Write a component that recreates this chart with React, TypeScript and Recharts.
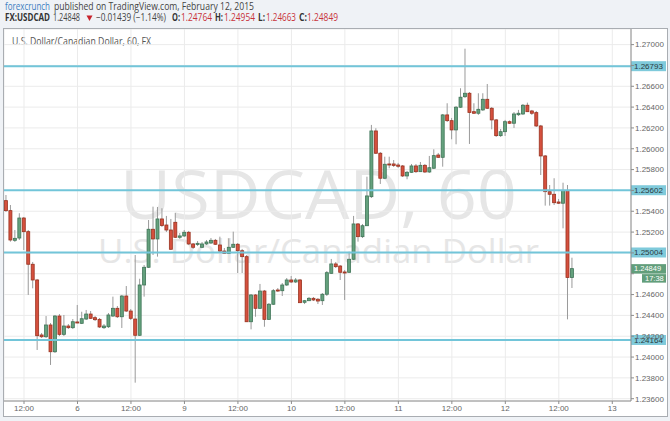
import React from 'react';
import { ComposedChart, Bar, XAxis, YAxis, CartesianGrid, ReferenceLine } from 'recharts';

// hourly USDCAD candles, Feb 5 08:00 -> Feb 12 15:00
const opens = [
  1.25502, 1.25406, 1.25121, 1.25143, 1.25335, 1.25204, 1.24891, 1.2474, 1.24212, 1.24195,
  1.24308, 1.24051, 1.24394, 1.24218, 1.24298, 1.24282, 1.24337, 1.24324, 1.24365, 1.24413,
  1.24378, 1.24362, 1.24282, 1.24291, 1.24394, 1.24468, 1.24387, 1.24586, 1.24442, 1.24365,
  1.24209, 1.24692, 1.24862, 1.25227, 1.25134, 1.25326, 1.25268, 1.2522, 1.25294, 1.2515,
  1.25163, 1.25198, 1.25086, 1.25081, 1.25054, 1.25086, 1.25095, 1.25121, 1.25076, 1.25018,
  1.24996, 1.25054, 1.25083, 1.25021, 1.24964, 1.24339, 1.24596, 1.24468, 1.24634, 1.24362,
  1.24507, 1.24644, 1.24637, 1.24692, 1.2474, 1.24721, 1.2474, 1.24526, 1.24541, 1.24564,
  1.24555, 1.24541, 1.24603, 1.24804, 1.24894, 1.24874, 1.24817, 1.24814, 1.24939, 1.25278,
  1.25156, 1.25261, 1.2554, 1.26171, 1.25957, 1.25717, 1.25854, 1.25854, 1.25844, 1.25835,
  1.25739, 1.25774, 1.25835, 1.2578, 1.25841, 1.25777, 1.25813, 1.2594, 1.25918, 1.26325,
  1.2627, 1.26181, 1.26399, 1.265, 1.26533, 1.26356, 1.26341, 1.26373, 1.26475, 1.26389,
  1.26277, 1.26126, 1.26164, 1.2626, 1.26245, 1.26327, 1.26334, 1.26418, 1.26363, 1.26347,
  1.26219, 1.25931, 1.25588, 1.25563, 1.25489, 1.25477, 1.25599, 1.24764,
];
const highs = [
  1.25556, 1.2546, 1.2522, 1.25381, 1.25345, 1.2522, 1.24913, 1.2475, 1.24231, 1.24394,
  1.24327, 1.24404, 1.24413, 1.24404, 1.24317, 1.24365, 1.245, 1.24435, 1.24452, 1.24442,
  1.24394, 1.24375, 1.24317, 1.24423, 1.2458, 1.2449, 1.24596, 1.24682, 1.24461, 1.2498,
  1.24752, 1.24884, 1.25316, 1.25444, 1.25441, 1.25429, 1.25355, 1.25326, 1.25383, 1.25191,
  1.2522, 1.25211, 1.25095, 1.25114, 1.25105, 1.25124, 1.25143, 1.25134, 1.25156, 1.25047,
  1.2514, 1.25204, 1.25095, 1.25038, 1.2498, 1.24605, 1.24605, 1.24702, 1.24644, 1.24519,
  1.24653, 1.24663, 1.24711, 1.24759, 1.24778, 1.24759, 1.2475, 1.24548, 1.24577, 1.24577,
  1.24567, 1.24615, 1.24826, 1.24942, 1.24913, 1.24884, 1.24836, 1.25012, 1.25355, 1.25287,
  1.25278, 1.25732, 1.26229, 1.26197, 1.25969, 1.25924, 1.25924, 1.25892, 1.25864, 1.25844,
  1.25787, 1.25854, 1.25854, 1.25873, 1.25854, 1.25931, 1.25995, 1.2596, 1.26334, 1.26437,
  1.26296, 1.26411, 1.26581, 1.26961, 1.26545, 1.26437, 1.26533, 1.26533, 1.26622, 1.26401,
  1.26286, 1.2619, 1.26277, 1.26272, 1.26353, 1.26373, 1.2643, 1.26443, 1.26373, 1.26363,
  1.26229, 1.2594, 1.25652, 1.25717, 1.25518, 1.25674, 1.25652, 1.24954,
];
const lows = [
  1.25393, 1.25108, 1.25105, 1.25124, 1.25028, 1.24596, 1.2466, 1.24068, 1.24183, 1.24183,
  1.23924, 1.24039, 1.24202, 1.24202, 1.24269, 1.24269, 1.24324, 1.24317, 1.24356, 1.24365,
  1.24346, 1.24279, 1.24269, 1.24279, 1.24385, 1.24375, 1.24279, 1.24433, 1.24356, 1.23754,
  1.24202, 1.2458, 1.24855, 1.2498, 1.24964, 1.25249, 1.25201, 1.25028, 1.25143, 1.25134,
  1.25153, 1.25076, 1.25038, 1.25066, 1.25047, 1.25076, 1.25086, 1.25076, 1.25009, 1.2499,
  1.2499, 1.25047, 1.24807, 1.24807, 1.24337, 1.24266, 1.24387, 1.24461, 1.24291, 1.24356,
  1.245, 1.24625, 1.24586, 1.24682, 1.24711, 1.24711, 1.24519, 1.24509, 1.24538, 1.24538,
  1.24509, 1.245, 1.24586, 1.24798, 1.24855, 1.2474, 1.24548, 1.24807, 1.24932, 1.25108,
  1.25143, 1.25259, 1.25527, 1.2595, 1.25662, 1.2571, 1.25813, 1.25825, 1.25816, 1.25729,
  1.25707, 1.25768, 1.25768, 1.25777, 1.25768, 1.25768, 1.25806, 1.25912, 1.25828, 1.26257,
  1.26091, 1.26043, 1.26392, 1.26488, 1.26046, 1.26334, 1.26325, 1.26363, 1.26382, 1.26187,
  1.26113, 1.26113, 1.26123, 1.26238, 1.262, 1.26315, 1.26325, 1.26353, 1.26325, 1.26209,
  1.25748, 1.25454, 1.25454, 1.2546, 1.2547, 1.25236, 1.24362, 1.24663,
];
const closes = [
  1.25406, 1.25124, 1.2514, 1.25335, 1.25204, 1.24891, 1.2474, 1.24205, 1.24195, 1.24308,
  1.24051, 1.24394, 1.24218, 1.24298, 1.24282, 1.24339, 1.24327, 1.24368, 1.24413, 1.24372,
  1.24359, 1.24289, 1.24298, 1.24404, 1.24468, 1.24387, 1.24586, 1.24442, 1.24372, 1.24209,
  1.24692, 1.24862, 1.25227, 1.25134, 1.25326, 1.25263, 1.2522, 1.25035, 1.2515, 1.25163,
  1.25198, 1.25086, 1.25054, 1.25092, 1.25086, 1.25105, 1.25121, 1.25083, 1.25018, 1.24996,
  1.25054, 1.25083, 1.25021, 1.24964, 1.24339, 1.24596, 1.24468, 1.24634, 1.24362, 1.24507,
  1.24637, 1.24634, 1.24692, 1.2474, 1.24721, 1.2474, 1.24522, 1.24541, 1.24564, 1.24548,
  1.24538, 1.24603, 1.2481, 1.24894, 1.24868, 1.24814, 1.24807, 1.24939, 1.25278, 1.25156,
  1.25261, 1.25547, 1.26171, 1.25957, 1.25717, 1.25851, 1.25844, 1.2584, 1.25832, 1.25739,
  1.25774, 1.25835, 1.2578, 1.25841, 1.25777, 1.25818, 1.25934, 1.25918, 1.26325, 1.2627,
  1.26181, 1.26399, 1.26495, 1.26533, 1.26349, 1.26341, 1.26379, 1.26475, 1.26389, 1.26277,
  1.26126, 1.26164, 1.2626, 1.26245, 1.26334, 1.26341, 1.26418, 1.26356, 1.26341, 1.26219,
  1.25931, 1.25588, 1.25563, 1.25482, 1.25477, 1.25599, 1.24764, 1.24849,
];

const levels = [1.26793, 1.25602, 1.25004, 1.24164];
const lastPrice = 1.24849;
const lastTime = '17:38';

const priceTicks = [
  1.236, 1.238, 1.24, 1.242, 1.244, 1.246, 1.248, 1.25, 1.252,
  1.254, 1.256, 1.258, 1.26, 1.262, 1.264, 1.266, 1.268, 1.27,
];
// tick labels hidden behind the level / price tags
const coveredTicks = [1.268, 1.256, 1.25, 1.248];
const timeTicks = [4, 16, 28, 40, 52, 64, 76, 88, 100, 112, 124, 136];
const timeLabels = ['12:00', '6', '12:00', '9', '12:00', '10', '12:00', '11', '12:00', '12', '12:00', '13'];

const data = opens.map((o, i) => ({
  i,
  open: o,
  high: highs[i],
  low: lows[i],
  close: closes[i],
}));

const AXIS_FONT = '"Liberation Sans", Arial, sans-serif';
const UI_FONT = '"Open Sans", "Liberation Sans", sans-serif';

const Candle = (props: any) => {
  const { x, y, width, height, payload } = props;
  if (!payload || x == null) return null;
  const { open, close, high, low } = payload;
  const k = high > low ? height / (high - low) : 0;
  const py = (p: number) => y + (high - p) * k;
  const up = close >= open;
  const cx = x + width / 2;
  const top = py(Math.max(open, close));
  const bot = py(Math.min(open, close));
  return (
    <g>
      <line x1={cx} x2={cx} y1={y} y2={y + height} stroke="#9a9a9a" strokeWidth={1} />
      <rect
        x={cx - 1.5}
        y={top}
        width={3}
        height={Math.max(1, bot - top)}
        fill={up ? '#64a17d' : '#d5503e'}
        stroke={up ? '#3f7457' : '#99321f'}
        strokeWidth={0.8}
      />
    </g>
  );
};

const LevelTag = (props: any) => {
  const { viewBox, text } = props;
  if (!viewBox) return null;
  const x = viewBox.x + viewBox.width;
  const y = viewBox.y;
  return (
    <g>
      <rect x={x} y={y - 5} width={35} height={10} fill="#7fcadb" />
      <text x={x + 3} y={y + 3} fontSize={8} fontFamily={AXIS_FONT} fill="#2a3a40">
        {text}
      </text>
    </g>
  );
};

const PriceTag = (props: any) => {
  const { viewBox, text, time } = props;
  if (!viewBox) return null;
  const x = viewBox.x + viewBox.width;
  const y = viewBox.y;
  return (
    <g>
      <rect x={x} y={y - 4.5} width={35} height={9.5} fill="#629e7b" />
      <text x={x + 3} y={y + 2.5} fontSize={7.5} fontFamily={AXIS_FONT} fill="#ffffff">
        {text}
      </text>
      <rect x={x + 11} y={y + 5.5} width={24} height={8.5} fill="#629e7b" />
      <text x={x + 14} y={y + 12.5} fontSize={7.5} fontFamily={AXIS_FONT} fill="#ffffff">
        {time}
      </text>
    </g>
  );
};

const Header = () => (
  <svg width={670} height={28} style={{ position: 'absolute', left: 0, top: 0 }}>
    <g fontFamily={UI_FONT} fontSize={10}>
      <text x={5} y={10} fill="#3b7dc0" textLength={45} lengthAdjust="spacingAndGlyphs">forexcrunch</text>
      <text x={54} y={10} fill="#444" textLength={200} lengthAdjust="spacingAndGlyphs">
        published on TradingView.com, February 12, 2015
      </text>
      <text x={5} y={21} fill="#333" fontWeight="bold" textLength={45} lengthAdjust="spacingAndGlyphs">FX:USDCAD</text>
      <text x={53} y={21} fill="#444" textLength={27} lengthAdjust="spacingAndGlyphs">1.24848</text>
      <path d="M86.5,15.5 L92.5,15.5 L89.5,21 Z" fill="#c8232c" />
      <text x={96} y={21} fill="#444" textLength={70} lengthAdjust="spacingAndGlyphs">−0.01439 (−1.14%)</text>
      <text x={172} y={21} fill="#333" fontWeight="bold" textLength={8} lengthAdjust="spacingAndGlyphs">O:</text>
      <text x={181} y={21} fill="#c8323a" textLength={31} lengthAdjust="spacingAndGlyphs">1.24764</text>
      <text x={215} y={21} fill="#333" fontWeight="bold" textLength={8} lengthAdjust="spacingAndGlyphs">H:</text>
      <text x={224} y={21} fill="#c8323a" textLength={31} lengthAdjust="spacingAndGlyphs">1.24954</text>
      <text x={258} y={21} fill="#333" fontWeight="bold" textLength={7} lengthAdjust="spacingAndGlyphs">L:</text>
      <text x={266} y={21} fill="#c8323a" textLength={30} lengthAdjust="spacingAndGlyphs">1.24663</text>
      <text x={299} y={21} fill="#333" fontWeight="bold" textLength={8} lengthAdjust="spacingAndGlyphs">C:</text>
      <text x={307} y={21} fill="#c8323a" textLength={31} lengthAdjust="spacingAndGlyphs">1.24849</text>
    </g>
  </svg>
);

const Watermark = () => (
  <svg width={663} height={387} style={{ position: 'absolute', left: 4, top: 29 }}>
    <g fontFamily={UI_FONT} fill="#e6e6e6">
      <text x={116} y={190} fontSize={67} textLength={397} lengthAdjust="spacingAndGlyphs">USDCAD, 60</text>
      <text x={94} y={234} fontSize={32} textLength={441} lengthAdjust="spacingAndGlyphs">
        U.S. Dollar/Canadian Dollar
      </text>
    </g>
    <text x={8} y={16} fontFamily={UI_FONT} fontSize={10} fill="#555" textLength={139} lengthAdjust="spacingAndGlyphs">
      U.S. Dollar/Canadian Dollar, 60, FX
    </text>
  </svg>
);

export default function App() {
  return (
    <div style={{ position: 'absolute', left: 0, top: 0, width: 670, height: 421, background: '#eff2f6', overflow: 'hidden' }}>
      <Header />
      <div
        style={{
          position: 'absolute',
          left: 3,
          top: 28,
          width: 663,
          height: 387,
          background: '#ffffff',
          border: '1px solid #a9adb2',
        }}
      />
      <Watermark />
      <div style={{ position: 'absolute', left: 4, top: 29 }}>
        <ComposedChart width={663} height={387} data={data} margin={{ top: 0, right: 0, bottom: 0, left: 0 }}>
          <CartesianGrid stroke="#ebebeb" strokeWidth={1} />
          <XAxis
            dataKey="i"
            type="number"
            domain={[-0.49, 140.2]}
            allowDataOverflow
            ticks={timeTicks}
            interval={0}
            height={15}
            tickFormatter={(v: number) => timeLabels[timeTicks.indexOf(v)] ?? ''}
            tick={{ fontSize: 8, fill: '#666', fontFamily: AXIS_FONT }}
            tickSize={3}
            tickMargin={1}
            axisLine={{ stroke: '#8c8c8c' }}
            tickLine={{ stroke: '#8c8c8c' }}
          />
          <YAxis
            orientation="right"
            type="number"
            domain={[1.23578, 1.2715]}
            allowDataOverflow
            ticks={priceTicks}
            interval={0}
            width={36}
            tickFormatter={(v: number) => (coveredTicks.some((c) => Math.abs(c - v) < 1e-9) ? '' : v.toFixed(5))}
            tick={{ fontSize: 8, fill: '#666', fontFamily: AXIS_FONT }}
            tickSize={3}
            tickMargin={1}
            axisLine={{ stroke: '#8c8c8c' }}
            tickLine={{ stroke: '#8c8c8c' }}
          />
          {levels.map((lv) => (
            <ReferenceLine
              key={lv}
              y={lv}
              stroke="#72c5d9"
              strokeWidth={2}
              label={<LevelTag text={lv.toFixed(5)} />}
            />
          ))}
          <ReferenceLine
            y={lastPrice}
            stroke="none"
            strokeOpacity={0}
            label={<PriceTag text={lastPrice.toFixed(5)} time={lastTime} />}
          />
          <Bar
            dataKey={(d: any) => [d.low, d.high]}
            barSize={4}
            shape={<Candle />}
            isAnimationActive={false}
          />
        </ComposedChart>
      </div>
    </div>
  );
}
